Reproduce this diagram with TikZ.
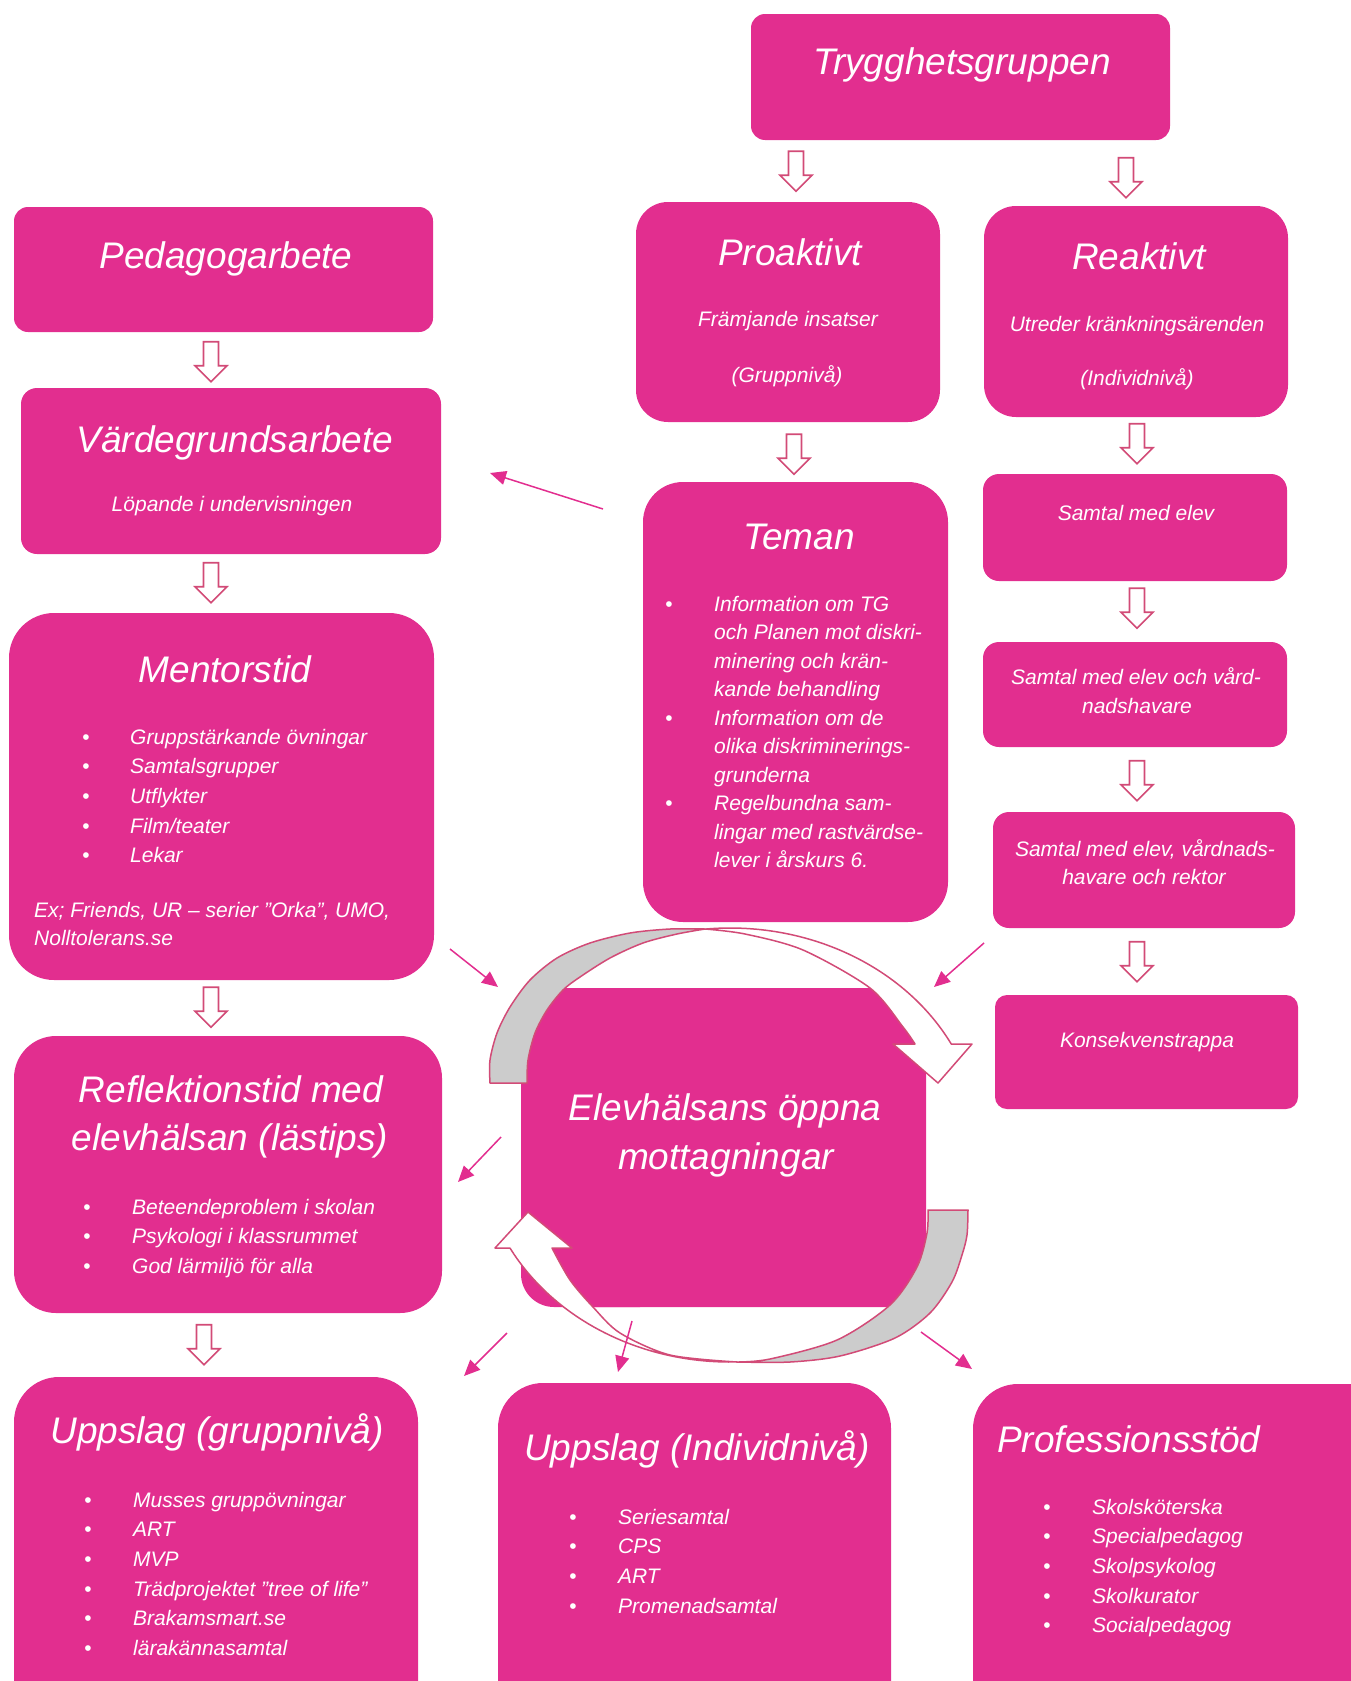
\documentclass[tikz,border=0pt]{standalone}
\usepackage{fontspec}
\setmainfont{Liberation Sans}
\usetikzlibrary{arrows.meta,shapes.arrows,calc}

\definecolor{rosa}{HTML}{E22E8F}
\definecolor{kant}{HTML}{D24B77}
\definecolor{gra}{HTML}{CCCCCC}

\tikzset{
  ruta/.style={fill=rosa, inner sep=0pt},
  rubrik/.style={text=white, font=\fontsize{37}{44}\selectfont\itshape, anchor=base, inner sep=0pt},
  brodtext/.style={text=white, font=\fontsize{21}{25}\selectfont\itshape, anchor=base, inner sep=0pt},
  punkt/.style={text=white, font=\fontsize{21}{25}\selectfont, anchor=base, inner sep=0pt},
  blockpil/.style={single arrow, draw=kant, fill=white, line width=1.6pt, minimum height=40pt,
    inner xsep=0pt, inner ysep=6.7pt, single arrow head extend=8.5pt, single arrow tip angle=90, rotate=-90},
  tunnpil/.style={draw=rosa, line width=1.5pt, -{Triangle[length=16pt,width=14pt]}},
  band/.style={draw=kant, line width=1.5pt, line join=round},
}

\begin{document}
\begin{tikzpicture}[x=1pt, y=-1pt]
\useasboundingbox (0,0) rectangle (1351,1681);
\clip (0,0) rectangle (1351,1681);

% rutor
\node[ruta, rounded corners=14pt, minimum width=419pt, minimum height=126pt] (trygg) at (960.5,77) {};
\node[ruta, rounded corners=32pt, minimum width=304pt, minimum height=220pt] (pro) at (788,312) {};
\node[ruta, rounded corners=32pt, minimum width=304pt, minimum height=211pt] (reak) at (1136,311.5) {};
\node[ruta, rounded corners=16pt, minimum width=304pt, minimum height=107pt] (samt1) at (1135,527.5) {};
\node[ruta, rounded corners=16pt, minimum width=304pt, minimum height=105pt] (samt2) at (1135,694.5) {};
\node[ruta, rounded corners=16pt, minimum width=302pt, minimum height=116pt] (samt3) at (1144,870) {};
\node[ruta, rounded corners=12pt, minimum width=303pt, minimum height=114pt] (kons) at (1146.5,1052) {};
\node[ruta, rounded corners=14pt, minimum width=419pt, minimum height=125pt] (ped) at (223.5,269.5) {};
\node[ruta, rounded corners=16pt, minimum width=420pt, minimum height=166pt] (vard) at (231,471) {};
\node[ruta, rounded corners=45pt, minimum width=425pt, minimum height=367pt] (ment) at (221.5,796.5) {};
\node[ruta, rounded corners=42pt, minimum width=428pt, minimum height=277pt] (refl) at (228,1174.5) {};
\node[ruta, rounded corners=45pt, minimum width=404pt, minimum height=363pt] (uppg) at (216,1558.5) {};
\node[ruta, rounded corners=45pt, minimum width=393pt, minimum height=357pt] (uppi) at (694.5,1561.5) {};
\node[ruta, rounded corners=45pt, minimum width=427pt, minimum height=356pt] (prof) at (1186.5,1562) {};
\node[ruta, rounded corners=40pt, minimum width=305pt, minimum height=440pt] (teman) at (795.5,702) {};

% mottagningen i mitten
\coordinate (C) at (730,1145);
\begin{scope}
  \clip (C) ellipse [x radius=250, y radius=217];
  \fill[rosa, rounded corners=33pt] (521,988) rectangle (926,1307);
\end{scope}
\begin{scope}
  \clip (500,1200) rectangle (640,1320);
  \fill[rosa, rounded corners=33pt] (521,988) rectangle (926,1307);
\end{scope}

% cirkelpilar, ovre
\filldraw[band, fill=white] ($(C)+(264.3:250 and 217)$) arc[start angle=264.3, end angle=332.3, x radius=250, y radius=217]
  -- (972,1044) -- (938,1083) -- (893,1044) -- (915,1044)
  -- plot[smooth] coordinates {(915,1044) (903,1027) (870,988) (803,950) (745,934) (705,929)} -- cycle;
\filldraw[band, fill=gra] plot[smooth] coordinates {(490,1083) (490,1060) (497,1033) (510,1007) (530,980) (557,958) (590,943) (630,933) (670,929) (705,929)}
  -- plot[smooth] coordinates {(705,929) (677,934) (643,943) (610,958) (580,977) (563,990) (547,1010) (535,1033) (528,1060) (527,1083)} -- cycle;

% cirkelpilar, nedre
\filldraw[band, fill=white] ($(C)+(88.4:250 and 217)$) arc[start angle=88.4, end angle=151.6, x radius=250, y radius=217]
  -- (495,1248) -- (528,1212) -- (572,1248) -- (552,1248)
  -- plot[smooth] coordinates {(552,1248) (570,1280) (593,1307) (620,1333) (670,1355) (737,1362)} -- cycle;
\filldraw[band, fill=gra] plot[smooth] coordinates {(968,1210) (967,1235) (962,1255) (952,1282) (930,1313) (895,1338) (840,1356) (790,1362) (737,1362)}
  -- plot[smooth] coordinates {(737,1362) (770,1359) (837,1340) (890,1305) (917,1267) (927,1233) (928,1210)} -- cycle;

% rubriker och texter
\node[rubrik] (tryggtxt) at (962,74) {Trygghetsgruppen};
\node[rubrik] (protxt) at (790,265) {Proaktivt};
\node[brodtext] (protxt2) at (788,326) {Främjande insatser};
\node[brodtext] (protxt3) at (787,382) {(Gruppnivå)};
\node[rubrik] (reaktxt) at (1139,269) {Reaktivt};
\node[brodtext] (reaktxt2) at (1137,331) {Utreder kränkningsärenden};
\node[brodtext] (reaktxt3) at (1137,385) {(Individnivå)};
\node[brodtext] (samt1txt) at (1136,520) {Samtal med elev};
\node[brodtext] (samt2txt) at (1136,684) {Samtal med elev och vård-};
\node[brodtext] (samt2txt2) at (1137,713) {nadshavare};
\node[brodtext] (samt3txt) at (1145,856) {Samtal med elev, vårdnads-};
\node[brodtext] (samt3txt2) at (1144,884) {havare och rektor};
\node[brodtext] (konstxt) at (1147,1047) {Konsekvenstrappa};
\node[rubrik] (pedtxt) at (226,268) {Pedagogarbete};
\node[rubrik] (vardtxt) at (235,452) {Värdegrundsarbete};
\node[brodtext] (vardtxt2) at (232,511) {Löpande i undervisningen};
\node[rubrik] (menttxt) at (225,682) {Mentorstid};
\node[brodtext, anchor=base west] (menttxt2) at (34,917) {Ex; Friends, UR – serier ”Orka”, UMO,};
\node[brodtext, anchor=base west] (menttxt3) at (34,945) {Nolltolerans.se};
\node[rubrik] (tematxt) at (799,549) {Teman};
\node[rubrik] (refltxt) at (231,1102) {Reflektionstid med};
\node[rubrik] (refltxt2) at (230,1150) {elevhälsan (lästips)};
\node[rubrik] (uppgtxt) at (217,1443) {Uppslag (gruppnivå)};
\node[rubrik] (uppitxt) at (697,1460) {Uppslag (Individnivå)};
\node[rubrik, anchor=base west] (proftxt) at (997,1452) {Professionsstöd};
\node[rubrik] (elevtxt) at (725,1120) {Elevhälsans öppna};
\node[rubrik] (elevtxt2) at (726,1169) {mottagningar};

% punktlistor
\foreach \t [count=\i] in {Gruppstärkande övningar, Samtalsgrupper, Utflykter, Film/teater, Lekar} {
  \node[punkt] (mp\i) at (86,{744+29.7*(\i-1)}) {•};
  \node[brodtext, anchor=base west] (mt\i) at (130,{744+29.7*(\i-1)}) {\t};
}
\foreach \t [count=\i] in {Information om TG, och Planen mot diskri-, minering och krän-, kande behandling, Information om de, olika diskriminerings-, grunderna, Regelbundna sam-, lingar med rastvärdse-, lever i årskurs 6.} {
  \node[brodtext, anchor=base west] (tt\i) at (714,{611+28.5*(\i-1)}) {\t};
}
\foreach \i in {1,5,8} {
  \node[punkt] (tp\i) at (669,{611+28.5*(\i-1)}) {•};
}
\foreach \t [count=\i] in {Beteendeproblem i skolan, Psykologi i klassrummet, God lärmiljö för alla} {
  \node[punkt] (rp\i) at (87,{1214+29.7*(\i-1)}) {•};
  \node[brodtext, anchor=base west] (rt\i) at (132,{1214+29.7*(\i-1)}) {\t};
}
\foreach \t [count=\i] in {Musses gruppövningar, ART, MVP, Trädprojektet ”tree of life”, Brakamsmart.se, lärakännasamtal} {
  \node[punkt] (gp\i) at (88,{1507+29.7*(\i-1)}) {•};
  \node[brodtext, anchor=base west] (gt\i) at (133,{1507+29.7*(\i-1)}) {\t};
}
\foreach \t [count=\i] in {Seriesamtal, CPS, ART, Promenadsamtal} {
  \node[punkt] (ip\i) at (573,{1524+29.7*(\i-1)}) {•};
  \node[brodtext, anchor=base west] (it\i) at (618,{1524+29.7*(\i-1)}) {\t};
}
\foreach \t [count=\i] in {Skolsköterska, Specialpedagog, Skolpsykolog, Skolkurator, Socialpedagog} {
  \node[punkt] (fp\i) at (1047,{1514+29.7*(\i-1)}) {•};
  \node[brodtext, anchor=base west] (ft\i) at (1092,{1514+29.7*(\i-1)}) {\t};
}

% blockpilar
\foreach \x/\y [count=\i] in {796/167.5, 1126/174, 211/358, 211/579, 211/1003.5, 204/1341, 794/450.5, 1137/440, 1137/604.5, 1137/777, 1137/958} {
  \node[blockpil] (bp\i) at (\x,\y) {};
}

% tunna pilar
\foreach \xa/\ya/\xb/\yb [count=\i] in {603/509/490/473, 450/949/498/987, 984/943/934/987, 501/1137/458/1182, 507/1333/464/1376, 632/1321/618/1372, 921/1332/972/1369} {
  \coordinate (s\i) at (\xa,\ya);
  \coordinate (e\i) at (\xb,\yb);
  \draw[tunnpil] (s\i) -- (e\i);
}
\end{tikzpicture}
\end{document}
